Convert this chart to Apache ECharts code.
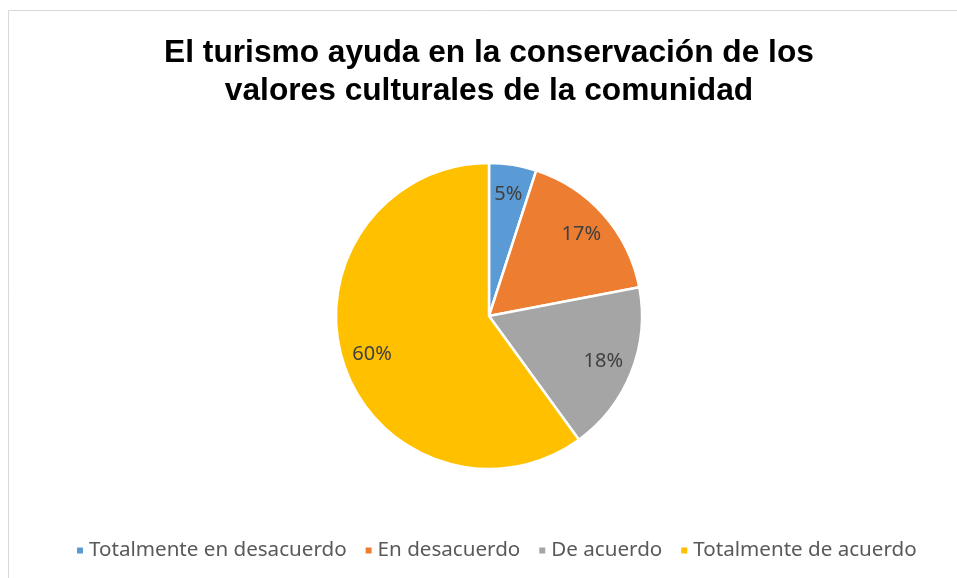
<!DOCTYPE html>
<html>
<head>
<meta charset="utf-8">
<script src="https://cdn.jsdelivr.net/npm/echarts@6/dist/echarts.min.js"></script>
<style>
  html, body { margin: 0; padding: 0; background: #fff; }
  #chart { width: 957px; height: 578px; }
</style>
</head>
<body>
<div id="chart"></div>
<script>
const categories = ['Totalmente en desacuerdo', 'En desacuerdo', 'De acuerdo', 'Totalmente de acuerdo'];
const percentages = [5, 17, 18, 60];
const sliceColors = ['#5B9BD5', '#ED7D31', '#A5A5A5', '#FFC000'];

const pieData = categories.map((name, i) => ({
  name: name,
  value: percentages[i],
  itemStyle: { color: sliceColors[i] }
}));

const chart = echarts.init(document.getElementById('chart'), null, { renderer: 'canvas' });

chart.setOption({
  animation: false,
  backgroundColor: '#ffffff',
  graphic: [{
    type: 'rect',
    shape: { x: 8.5, y: 10.5, width: 1000, height: 1000 },
    style: { fill: 'none', stroke: '#d9d9d9', lineWidth: 1 },
    silent: true,
    z: -10
  }],
  title: {
    text: 'El turismo ayuda en la conservación de los\nvalores culturales de la comunidad',
    left: 484,
    textAlign: 'center',
    top: 29,
    textStyle: {
      fontFamily: 'Liberation Sans, Arial, sans-serif',
      fontWeight: 'bold',
      fontSize: 31.7,
      lineHeight: 38,
      color: '#000000'
    }
  },
  legend: {
    bottom: 12,
    left: 70,
    itemWidth: 8,
    itemHeight: 8,
    itemGap: 17,
    icon: 'rect',
    textStyle: {
      fontFamily: 'Noto Sans, sans-serif',
      fontSize: 20.6,
      color: '#595959'
    },
    data: categories
  },
  series: [
    {
      type: 'pie',
      center: [489, 316],
      radius: [0, 153],
      startAngle: 90,
      clockwise: true,
      label: { show: false },
      labelLine: { show: false },
      itemStyle: { borderColor: '#ffffff', borderWidth: 2.5 },
      emphasis: { disabled: true },
      data: pieData
    },
    {
      // label ring: places percentage text further out inside each slice
      type: 'pie',
      center: [489, 316],
      radius: [87, 153],
      startAngle: 90,
      clockwise: true,
      silent: true,
      legendHoverLink: false,
      itemStyle: { color: 'transparent', borderWidth: 0 },
      label: {
        show: true,
        position: 'inside',
        formatter: p => p.value + '%',
        fontFamily: 'Noto Sans, sans-serif',
        fontSize: 20,
        color: '#404040'
      },
      labelLine: { show: false },
      emphasis: { disabled: true },
      data: categories.map((name, i) => ({ name: name, value: percentages[i] }))
    }
  ]
});
</script>
</body>
</html>
